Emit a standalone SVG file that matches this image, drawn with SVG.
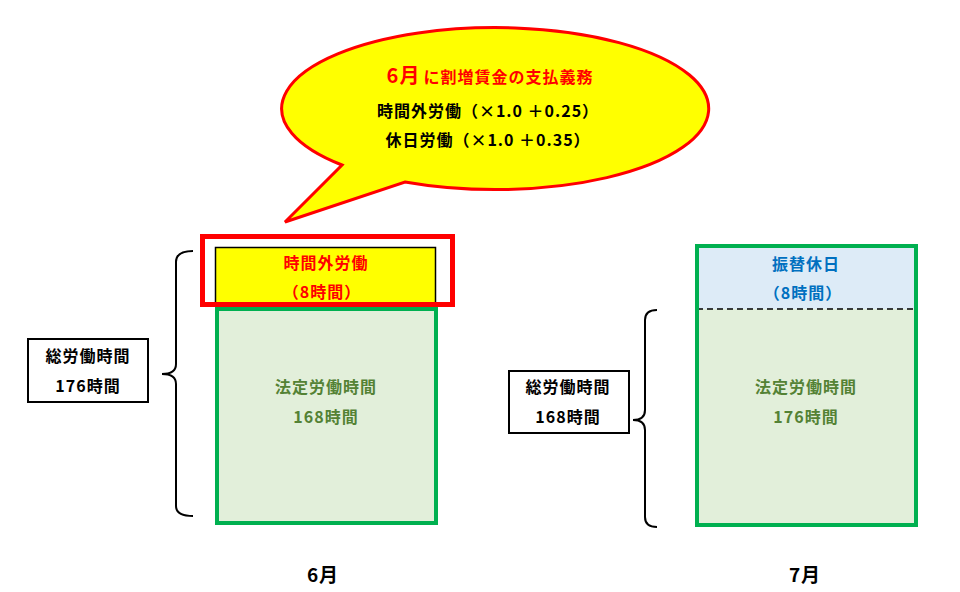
<svg xmlns="http://www.w3.org/2000/svg" width="960" height="592" viewBox="0 0 960 592">
<style>
text{font-family:"Noto Sans CJK JP","Noto Sans",sans-serif;font-weight:bold;font-size:16px;text-anchor:middle;letter-spacing:1px}
.blk{fill:#000}
.red{fill:#FF0000}
.grn{fill:#548235}
.blu{fill:#0070C0}
.big{font-size:20px}
.mon{font-size:19px}
.brace{fill:none;stroke:#000;stroke-width:2}
.box{fill:#fff;stroke:#000;stroke-width:2}
</style>
<rect width="960" height="592" fill="#fff"/>
<g id="bubble">
<path d="M342,165 A213.5,81 0 1 1 405,182 L285,222 Z" fill="#FFFF00" stroke="#FF0000" stroke-width="3" stroke-linejoin="miter"/>
<text x="490" y="83" class="red"><tspan class="big">6月</tspan><tspan dx="3">に割増賃金の支払義務</tspan></text>
<text x="488" y="117" class="blk">時間外労働（×1.0 ＋0.25）</text>
<text x="488" y="146" class="blk">休日労働（×1.0 ＋0.35）</text>
</g>
<g id="june-overtime">
<rect x="215.5" y="247.5" width="220" height="56" fill="#FFFF00" stroke="#000" stroke-width="1.5"/>
<text x="326" y="269" class="red">時間外労働</text>
<text x="322" y="298" class="red">（8時間）</text>
</g>
<g id="june-legal">
<rect x="217" y="309" width="219" height="214" fill="#E2EFDA" stroke="#00B050" stroke-width="4"/>
<text x="326" y="393" class="grn">法定労働時間</text>
<text x="326" y="423" class="grn">168時間</text>
</g>
<g id="june-highlight">
<rect x="202.5" y="236.5" width="250" height="68" fill="none" stroke="#FF0000" stroke-width="5"/>
</g>
<g id="june-total">
<rect x="28" y="339" width="120" height="63" class="box"/>
<text x="88" y="362" class="blk">総労働時間</text>
<text x="88" y="392" class="blk">176時間</text>
</g>
<g id="july-block">
<rect x="697" y="246" width="219" height="279" fill="#E2EFDA" stroke="none"/>
<rect x="697" y="246" width="219" height="63" fill="#DDEBF7" stroke="none"/>
<line x1="697" y1="309" x2="916" y2="309" stroke="#000" stroke-width="1.5" stroke-dasharray="6,4"/>
<rect x="697" y="246" width="219" height="279" fill="none" stroke="#00B050" stroke-width="4"/>
<text x="806" y="270" class="blu">振替休日</text>
<text x="803" y="299" class="blu">（8時間）</text>
<text x="806" y="393" class="grn">法定労働時間</text>
<text x="806" y="423" class="grn">176時間</text>
</g>
<g id="july-total">
<rect x="509" y="371" width="120" height="62" class="box"/>
<text x="568" y="393" class="blk">総労働時間</text>
<text x="568" y="423" class="blk">168時間</text>
</g>
<g id="labels">
<text x="323" y="582" class="blk mon">6月</text>
<text x="805" y="582" class="blk mon">7月</text>
</g>
<g id="connectors">
<path class="brace" d="M193,251 Q176,251 176,262 L176,364 Q176,374 162,374 Q176,374 176,384 L176,506 Q176,516 193,516"/>
<path class="brace" d="M657,310 Q645,310 645,320 L645,410 Q645,420 633,420 Q645,420 645,430 L645,517 Q645,527 657,527"/>
</g>
</svg>
